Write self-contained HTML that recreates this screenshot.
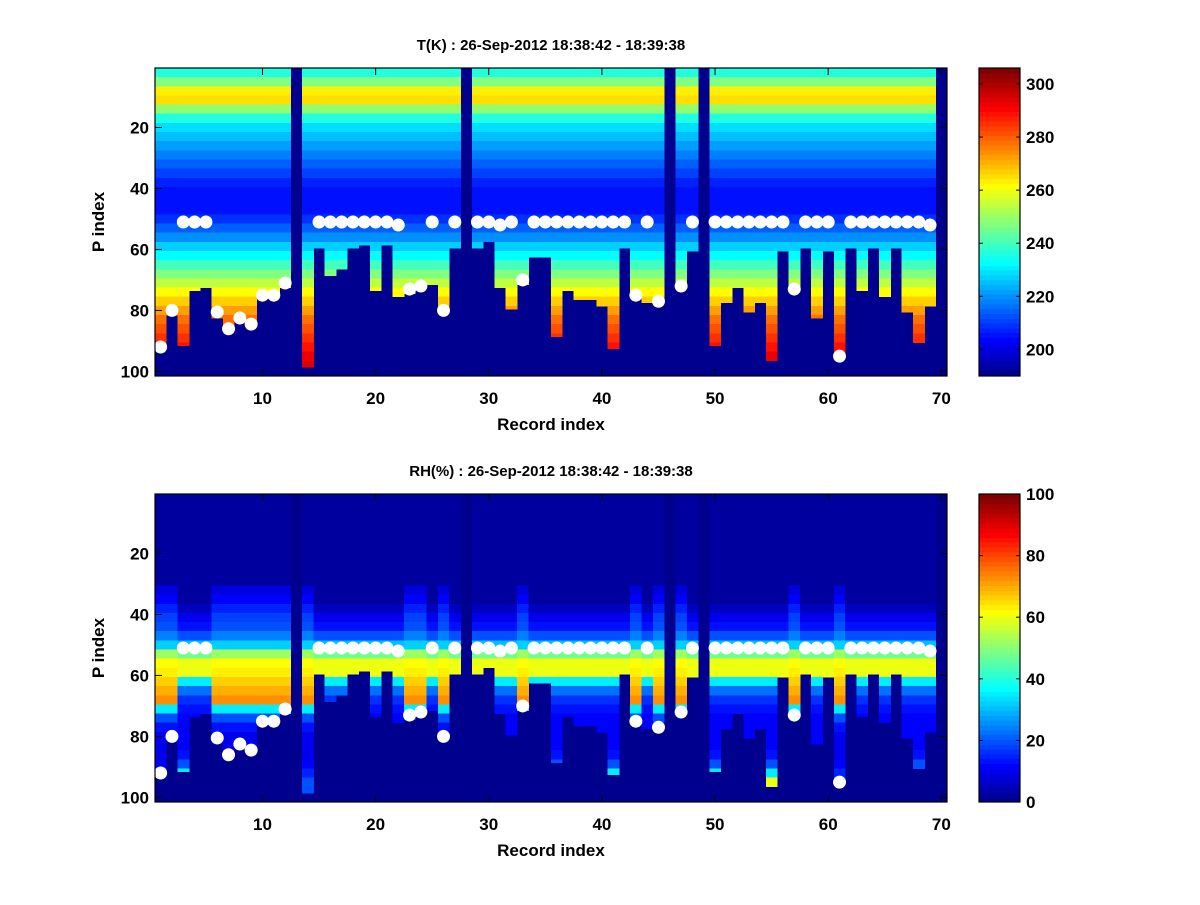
<!DOCTYPE html>
<html><head><meta charset="utf-8"><style>
html,body{margin:0;padding:0;background:#fff;}
svg text{font-family:"Liberation Sans",sans-serif;font-weight:bold;fill:#000;}
</style></head><body>
<svg id="fig" width="1200" height="900" viewBox="0 0 1200 900" xmlns="http://www.w3.org/2000/svg">
<rect width="1200" height="900" fill="#fff"/>
</svg>
<script>
// ---- data ----
const records = Array.from({length:70},(_,i)=>i+1);
// last valid P index per record (0 = missing column)
const cutoff = [91,81,91,73,72,82,85,82,84,74,74,72,0,98,59,68,66,59,58,73,58,75,74,72,71,80,59,0,59,57,72,79,71,62,62,88,73,76,76,78,92,59,75,77,77,0,72,60,0,91,77,72,80,77,96,60,73,59,82,60,95,59,73,59,75,59,80,90,78,0];
// white marker P index per record (0 = none)
const dotP = [92,80,51,51,51,80.5,86,82.5,84.5,75,75,71,0,0,51,51,51,51,51,51,51,52,73,72,51,80,51,0,51,51,52,51,70,51,51,51,51,51,51,51,51,51,75,51,77,0,72,51,0,51,51,51,51,51,51,51,73,51,51,51,95,51,51,51,51,51,51,51,52,0];
// temperature profile (K), 3-row blocks from P1
const tProfile = [236,247,263,266,248,236,229,225,221,218,214,211,208,206,205,206,209,214,220,227,233,240,247,255,262,267,272,277,281,285,288,292,295,297];
// RH profiles (%), 3-row blocks
const rhProfileA = [2,2,2,2,2,2,2,2,2,2,8,12,15,18,20,24,32,52,62,64,66,70,72,35,20,14,10,10,10,12,15,20,20,20];
const rhProfileB = [2,2,2,2,2,2,2,2,2,2,2,2,5,10,14,20,30,48,60,60,35,22,16,14,12,12,12,12,14,20,35,60,70,70];
const tTicks = [200,220,240,260,280,300];
const rhTicks = [0,20,40,60,80,100];
const xTicks = [10,20,30,40,50,60,70];
const yTicks = [20,40,60,80,100];
const tRange = [190,306];
const rhRange = [0,100];

// ---- helpers ----
const NS="http://www.w3.org/2000/svg";
const svg=document.getElementById('fig');
function mk(tag,attrs,parent){const e=document.createElementNS(NS,tag);for(const k in attrs)e.setAttribute(k,attrs[k]);(parent||svg).appendChild(e);return e;}
function jet(t){let k=Math.floor(t*64);k=Math.max(0,Math.min(63,k));const x=(k+1)/64;
 const c=v=>Math.round(255*Math.max(0,Math.min(1,v)));
 return `rgb(${c(1.5-Math.abs(4*x-3))},${c(1.5-Math.abs(4*x-2))},${c(1.5-Math.abs(4*x-1))})`;}
const PX0=155,PX1=947,PH=308;
const xS=v=>PX0+(v-0.5)*(PX1-PX0)/70;

function panel(top,title,profileFor,range,cbTicks,name){
 const yS=p=>top+(p-0.5)*PH/101;
 const g=mk('g',{},svg);
 
 
 const bg=mk('rect',{x:PX0,y:top,width:PX1-PX0,height:PH,fill:'rgb(0,0,143)'},g);
 
 
 const hm=mk('g',{'shape-rendering':'crispEdges'},g);
 
 
 records.forEach((r,i)=>{
  const cut=cutoff[i]; if(!cut) return;
  const prof=profileFor(i);
  prof.forEach((v,b)=>{
   const p0=3*b+1; if(p0>cut) return;
   const p1=Math.min(p0+2,cut);
   const x0=xS(r-0.5),x1=xS(r+0.5),y0=yS(p0-0.5),y1=yS(p1+0.5);
   const cell=mk('rect',{x:x0.toFixed(2),y:y0.toFixed(2),width:(x1-x0+0.4).toFixed(2),height:(y1-y0+0.4).toFixed(2),fill:jet((v-range[0])/(range[1]-range[0]))},hm);
   
   
  });
 });
 records.forEach((r,i)=>{ if(!dotP[i]) return;
  const d=mk('circle',{cx:xS(r),cy:yS(dotP[i]),r:6.5,fill:'#fff'},g);
  
  
 });
 const fr=mk('rect',{x:PX0,y:top,width:PX1-PX0,height:PH,fill:'none',stroke:'#000','stroke-width':1.2},g);
 
 
 xTicks.forEach(v=>{const x=xS(v);
  mk('line',{x1:x,y1:top+PH,x2:x,y2:top+PH-7,stroke:'#000'},g);
  mk('line',{x1:x,y1:top,x2:x,y2:top+7,stroke:'#000'},g);
  const t=mk('text',{x:x,y:top+PH+28,'font-size':17,'text-anchor':'middle'},g);t.textContent=v;
  
  
 });
 yTicks.forEach(v=>{const y=yS(v);
  mk('line',{x1:PX0,y1:y,x2:PX0+7,y2:y,stroke:'#000'},g);
  mk('line',{x1:PX1,y1:y,x2:PX1-7,y2:y,stroke:'#000'},g);
  const t=mk('text',{x:PX0-6,y:y+6,'font-size':17,'text-anchor':'end'},g);t.textContent=v;
  
  
 });
 const tt=mk('text',{x:551,y:top-18,'font-size':15,'text-anchor':'middle'},g);tt.textContent=title;
 
 
 const xl=mk('text',{x:551,y:top+PH+54,'font-size':17,'text-anchor':'middle'},g);xl.textContent='Record index';
 
 
 const yl=mk('text',{x:0,y:0,'font-size':17,'text-anchor':'middle',transform:`translate(104,${top+PH/2}) rotate(-90)`},g);yl.textContent='P index';
 
 
 // colorbar
 const cb=mk('g',{'shape-rendering':'crispEdges'},g);
 
 
 const CX0=979,CX1=1020;
 for(let k=0;k<64;k++){const y0=top+PH-(k+1)*PH/64;
  mk('rect',{x:CX0,y:y0.toFixed(2),width:CX1-CX0,height:(PH/64+0.5).toFixed(2),fill:jet((k+0.5)/64)},cb);}
 mk('rect',{x:CX0,y:top,width:CX1-CX0,height:PH,fill:'none',stroke:'#000','stroke-width':1.2},g);
 const cy=v=>top+PH-(v-range[0])/(range[1]-range[0])*PH;
 cbTicks.forEach(v=>{const y=cy(v);
  mk('line',{x1:CX0,y1:y,x2:CX0+4,y2:y,stroke:'#000'},g);
  mk('line',{x1:CX1,y1:y,x2:CX1-4,y2:y,stroke:'#000'},g);
  const t=mk('text',{x:1026,y:y+6,'font-size':17},g);t.textContent=v;
  
  
 });
}
panel(68,'T(K) : 26-Sep-2012 18:38:42 - 18:39:38',i=>tProfile,tRange,tTicks,'temperature');
panel(494,'RH(%) : 26-Sep-2012 18:38:42 - 18:39:38',i=>(dotP[i]>=50&&dotP[i]<=53)?rhProfileB:rhProfileA,rhRange,rhTicks,'humidity');
</script>
</body></html>
